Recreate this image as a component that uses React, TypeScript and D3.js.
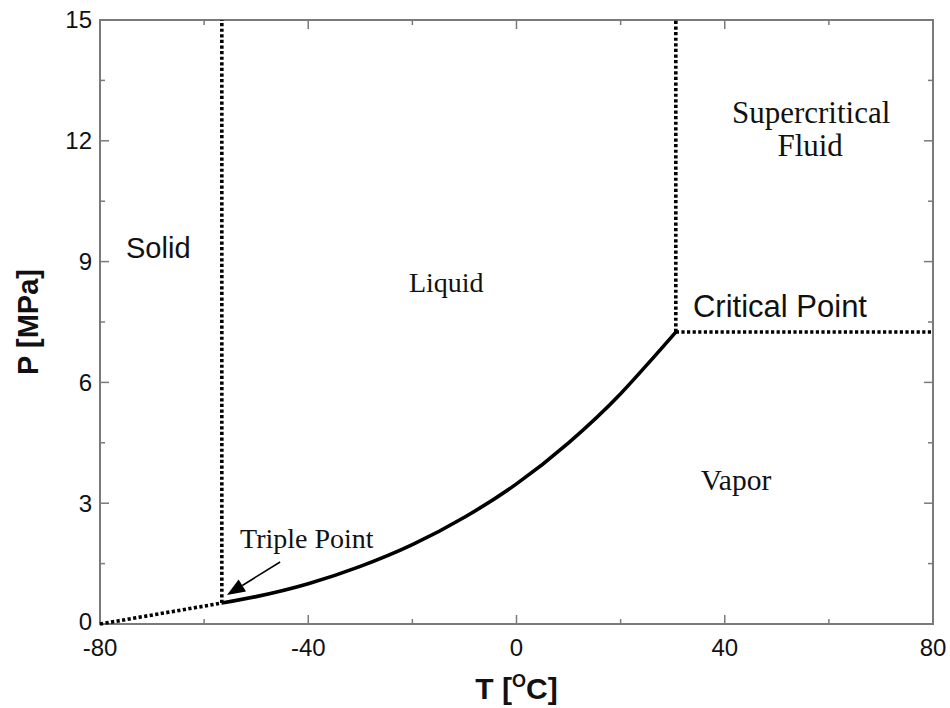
import React from "react";
import * as d3 from "d3";

// CO2 phase diagram
const X_TICKS = [-80, -40, 0, 40, 80];
const X_MINOR = [-60, -20, 20, 60];
const Y_TICKS = [0, 3, 6, 9, 12, 15];
const Y_MINOR = [1.5, 4.5, 7.5, 10.5, 13.5];

// vapor pressure curve (triple point -> critical point)
const VAPOR_T = [-56.6, -50, -40, -30, -20, -10, 0, 10, 20, 25, 30.6];
const VAPOR_P = [0.52, 0.68, 1.0, 1.43, 1.97, 2.65, 3.48, 4.5, 5.72, 6.43, 7.25];

// sublimation line (dotted)
const SUB_T = [-80, -56.6];
const SUB_P = [0.0, 0.52];

const TRIPLE = { t: -56.6, p: 0.52 };
const CRITICAL = { t: 30.6, p: 7.25 };

const REGION_LABELS = [
  { text: "Solid", t: -75, p: 9.1, anchor: "start" },
  { text: "Liquid", t: -13.5, p: 8.25, anchor: "middle" },
  { text: "Supercritical", t: 56.6, p: 12.44, anchor: "middle" },
  { text: "Fluid", t: 56.4, p: 11.62, anchor: "middle" },
  { text: "Critical Point", t: 33.9, p: 7.62, anchor: "start" },
  { text: "Vapor", t: 35.4, p: 3.33, anchor: "start" },
  { text: "Triple Point", t: -53.1, p: 1.89, anchor: "start" },
];

const ARROW_FROM = { t: -45.4, p: 1.54 };
const ARROW_TO = { t: -55.6, p: 0.72 };

const WIDTH = 950;
const HEIGHT = 708;
const MARGIN = { top: 20, right: 17, bottom: 84, left: 100 };
const SANS = "'Liberation Sans', Arial, sans-serif";
const SERIF = "'Liberation Serif', 'Times New Roman', serif";
const AXIS_COLOR = "#7a7a7a";
const DOTS = "3.2 2.4";

// label font per text (sans ones are the "Arial" labels in the figure)
const LABEL_STYLE: Record<string, { family: string; size: number }> = {
  Solid: { family: SANS, size: 29 },
  Liquid: { family: SERIF, size: 28 },
  Supercritical: { family: SERIF, size: 31 },
  Fluid: { family: SERIF, size: 31 },
  "Critical Point": { family: SANS, size: 31 },
  Vapor: { family: SERIF, size: 29.5 },
  "Triple Point": { family: SERIF, size: 28 },
};

const x = d3.scaleLinear().domain([-80, 80]).range([MARGIN.left, WIDTH - MARGIN.right]);
const y = d3.scaleLinear().domain([0, 15]).range([HEIGHT - MARGIN.bottom, MARGIN.top]);

const line = d3
  .line<[number, number]>()
  .x((d) => x(d[0]))
  .y((d) => y(d[1]))
  .curve(d3.curveMonotoneX);

export default function App() {
  const [x0, x1] = x.range();
  const [y0, y1] = y.range();
  const vapor = VAPOR_T.map((t, i) => [t, VAPOR_P[i]] as [number, number]);
  const sub = SUB_T.map((t, i) => [t, SUB_P[i]] as [number, number]);

  // arrow head
  const ax = x(ARROW_TO.t);
  const ay = y(ARROW_TO.p);
  const bx = x(ARROW_FROM.t);
  const by = y(ARROW_FROM.p);
  const ang = Math.atan2(ay - by, ax - bx);
  const hl = 18;
  const hw = 7;
  const baseX = ax - hl * Math.cos(ang);
  const baseY = ay - hl * Math.sin(ang);
  const head = [
    [ax, ay],
    [baseX + hw * Math.sin(ang), baseY - hw * Math.cos(ang)],
    [baseX - hw * Math.sin(ang), baseY + hw * Math.cos(ang)],
  ]
    .map((p) => p.join(","))
    .join(" ");

  return (
    <svg
      width={WIDTH}
      height={HEIGHT}
      style={{ position: "absolute", left: 0, top: 0, background: "#fff" }}
    >
      {/* ticks, all four sides, pointing inward */}
      <g stroke={AXIS_COLOR} strokeWidth={1.5}>
        {X_TICKS.map((t) => (
          <g key={"xt" + t}>
            <line x1={x(t)} x2={x(t)} y1={y0} y2={y0 - 9} />
            <line x1={x(t)} x2={x(t)} y1={y1} y2={y1 + 9} />
          </g>
        ))}
        {X_MINOR.map((t) => (
          <g key={"xm" + t}>
            <line x1={x(t)} x2={x(t)} y1={y0} y2={y0 - 5} />
            <line x1={x(t)} x2={x(t)} y1={y1} y2={y1 + 5} />
          </g>
        ))}
        {Y_TICKS.map((p) => (
          <g key={"yt" + p}>
            <line x1={x0} x2={x0 + 9} y1={y(p)} y2={y(p)} />
            <line x1={x1} x2={x1 - 9} y1={y(p)} y2={y(p)} />
          </g>
        ))}
        {Y_MINOR.map((p) => (
          <g key={"ym" + p}>
            <line x1={x0} x2={x0 + 5} y1={y(p)} y2={y(p)} />
            <line x1={x1} x2={x1 - 5} y1={y(p)} y2={y(p)} />
          </g>
        ))}
      </g>
      <rect
        x={x0}
        y={y1}
        width={x1 - x0}
        height={y0 - y1}
        fill="none"
        stroke={AXIS_COLOR}
        strokeWidth={2}
      />

      {/* tick labels */}
      <g fontFamily={SANS} fontSize={24} fill="#111">
        {X_TICKS.map((t) => (
          <text key={"xl" + t} x={x(t)} y={y0 + 32} textAnchor="middle">
            {t}
          </text>
        ))}
        {Y_TICKS.map((p) => (
          <text
            key={"yl" + p}
            x={x0 - 8}
            y={y(p) - (p === 0 ? 2 : 0)}
            dy="0.35em"
            textAnchor="end"
          >
            {p}
          </text>
        ))}
      </g>

      {/* axis titles */}
      <text
        transform={`translate(${x0 - 62},${(y0 + y1) / 2}) rotate(-90)`}
        textAnchor="middle"
        fontFamily={SANS}
        fontWeight="bold"
        fontSize={29}
        fill="#111"
      >
        P [MPa]
      </text>
      <text
        x={(x0 + x1) / 2}
        y={699}
        textAnchor="middle"
        fontFamily={SANS}
        fontWeight="bold"
        fontSize={30}
        fill="#111"
      >
        T [
        <tspan fontSize={18} dy={-12}>
          O
        </tspan>
        <tspan dy={12}>C]</tspan>
      </text>

      {/* phase boundaries */}
      <g fill="none" stroke="#000" strokeWidth={3.6} strokeDasharray={DOTS}>
        <line x1={x(TRIPLE.t)} x2={x(TRIPLE.t)} y1={y(TRIPLE.p)} y2={y1} />
        <line x1={x(CRITICAL.t)} x2={x(CRITICAL.t)} y1={y(CRITICAL.p)} y2={y1} />
        <line x1={x(CRITICAL.t)} x2={x1} y1={y(CRITICAL.p)} y2={y(CRITICAL.p)} />
        <path d={line(sub) || ""} />
      </g>
      <path d={line(vapor) || ""} fill="none" stroke="#000" strokeWidth={3.6} />

      {/* labels */}
      {REGION_LABELS.map((l) => (
        <text
          key={l.text}
          x={x(l.t)}
          y={y(l.p)}
          textAnchor={l.anchor as any}
          fontFamily={LABEL_STYLE[l.text].family}
          fontSize={LABEL_STYLE[l.text].size}
          fill="#111"
        >
          {l.text}
        </text>
      ))}

      {/* triple point arrow */}
      <line x1={bx} y1={by} x2={baseX} y2={baseY} stroke="#000" strokeWidth={1.5} />
      <polygon points={head} fill="#000" />
    </svg>
  );
}
